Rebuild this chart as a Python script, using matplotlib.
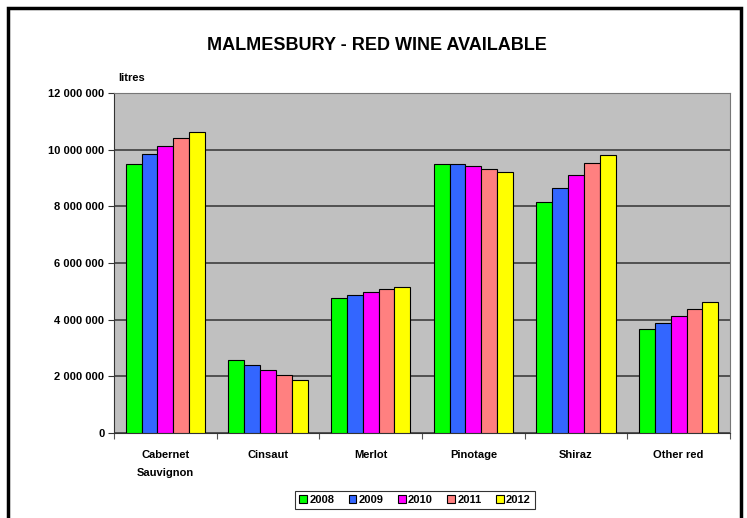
import matplotlib.pyplot as plt
import numpy as np
from matplotlib.patches import Rectangle
from matplotlib.transforms import blended_transform_factory

# ---- data (litres) ----
categories = ["Cabernet\nSauvignon", "Cinsaut", "Merlot", "Pinotage", "Shiraz", "Other red"]
years = ["2008", "2009", "2010", "2011", "2012"]
v2008 = [9_500_000, 2_560_000, 4_760_000, 9_500_000, 8_150_000, 3_680_000]
v2009 = [9_850_000, 2_400_000, 4_860_000, 9_480_000, 8_650_000, 3_880_000]
v2010 = [10_140_000, 2_235_000, 4_980_000, 9_410_000, 9_110_000, 4_120_000]
v2011 = [10_410_000, 2_060_000, 5_070_000, 9_320_000, 9_530_000, 4_390_000]
v2012 = [10_610_000, 1_870_000, 5_140_000, 9_220_000, 9_820_000, 4_640_000]
series = [v2008, v2009, v2010, v2011, v2012]
colors = ["#00FF00", "#3366FF", "#FF00FF", "#FF8080", "#FFFF00"]
yticks = [0, 2_000_000, 4_000_000, 6_000_000, 8_000_000, 10_000_000, 12_000_000]

plt.rcParams["font.family"] = ["Liberation Sans", "DejaVu Sans"]
plt.rcParams["font.weight"] = "bold"

fig = plt.figure(figsize=(7.47, 5.18), dpi=100)
ax = fig.add_axes([114 / 747, 85 / 518, 616 / 747, 340 / 518])
ax.set_facecolor("#C0C0C0")

x = np.arange(len(categories))
bw = 0.154
for i, (vals, col, yr) in enumerate(zip(series, colors, years)):
    ax.bar(x + (i - 2) * bw, vals, width=bw, color=col, edgecolor="black",
           linewidth=0.8, label=yr, zorder=3)

ax.set_xlim(-0.5, len(categories) - 0.5)
ax.set_ylim(0, 12_000_000)
ax.set_yticks(yticks)
ax.set_yticklabels([f"{v:,}".replace(",", " ") for v in yticks], fontsize=8, fontweight="bold")
ax.yaxis.grid(True, color="#333333", linewidth=1.1, zorder=1)
ax.set_axisbelow(True)

# category labels: each line on its own baseline
ax.set_xticks(np.arange(-0.5, len(categories)))
ax.set_xticklabels([])
ax.tick_params(axis="x", length=4, color="#555555")
ax.tick_params(axis="y", length=4, color="#333333", pad=3)
trans = blended_transform_factory(ax.transData, ax.transAxes)
for xi, lab in zip(x, categories):
    for k, line in enumerate(lab.split("\n")):
        ax.text(xi, -(25 + 18 * k) / 340, line, transform=trans, ha="center",
                va="baseline", fontsize=8, fontweight="bold")

for side in ["top", "right"]:
    ax.spines[side].set_color("#777777")
ax.spines["left"].set_color("#333333")
ax.spines["bottom"].set_color("#333333")

fig.text(118 / 747, 1 - 78 / 518, "litres", fontsize=8, fontweight="bold",
         ha="left", va="center")
fig.text(377 / 747, 1 - 45 / 518, "MALMESBURY - RED WINE AVAILABLE",
         fontsize=13, fontweight="bold", ha="center", va="center")

leg = fig.legend(loc="center", bbox_to_anchor=(415 / 747, 1 - 500 / 518), ncol=5,
                 fontsize=8, frameon=True, fancybox=False, edgecolor="black",
                 handlelength=0.7, handleheight=0.7, handletextpad=0.2,
                 columnspacing=1.3, borderpad=0.35)
leg.get_frame().set_linewidth(0.8)

# outer chart border
fig.patches.append(Rectangle((8 / 747, -0.02), 733 / 747, 1.02 - 8 / 518,
                             transform=fig.transFigure, fill=False,
                             edgecolor="black", linewidth=2.5))

fig.savefig("out.png", dpi=100)
